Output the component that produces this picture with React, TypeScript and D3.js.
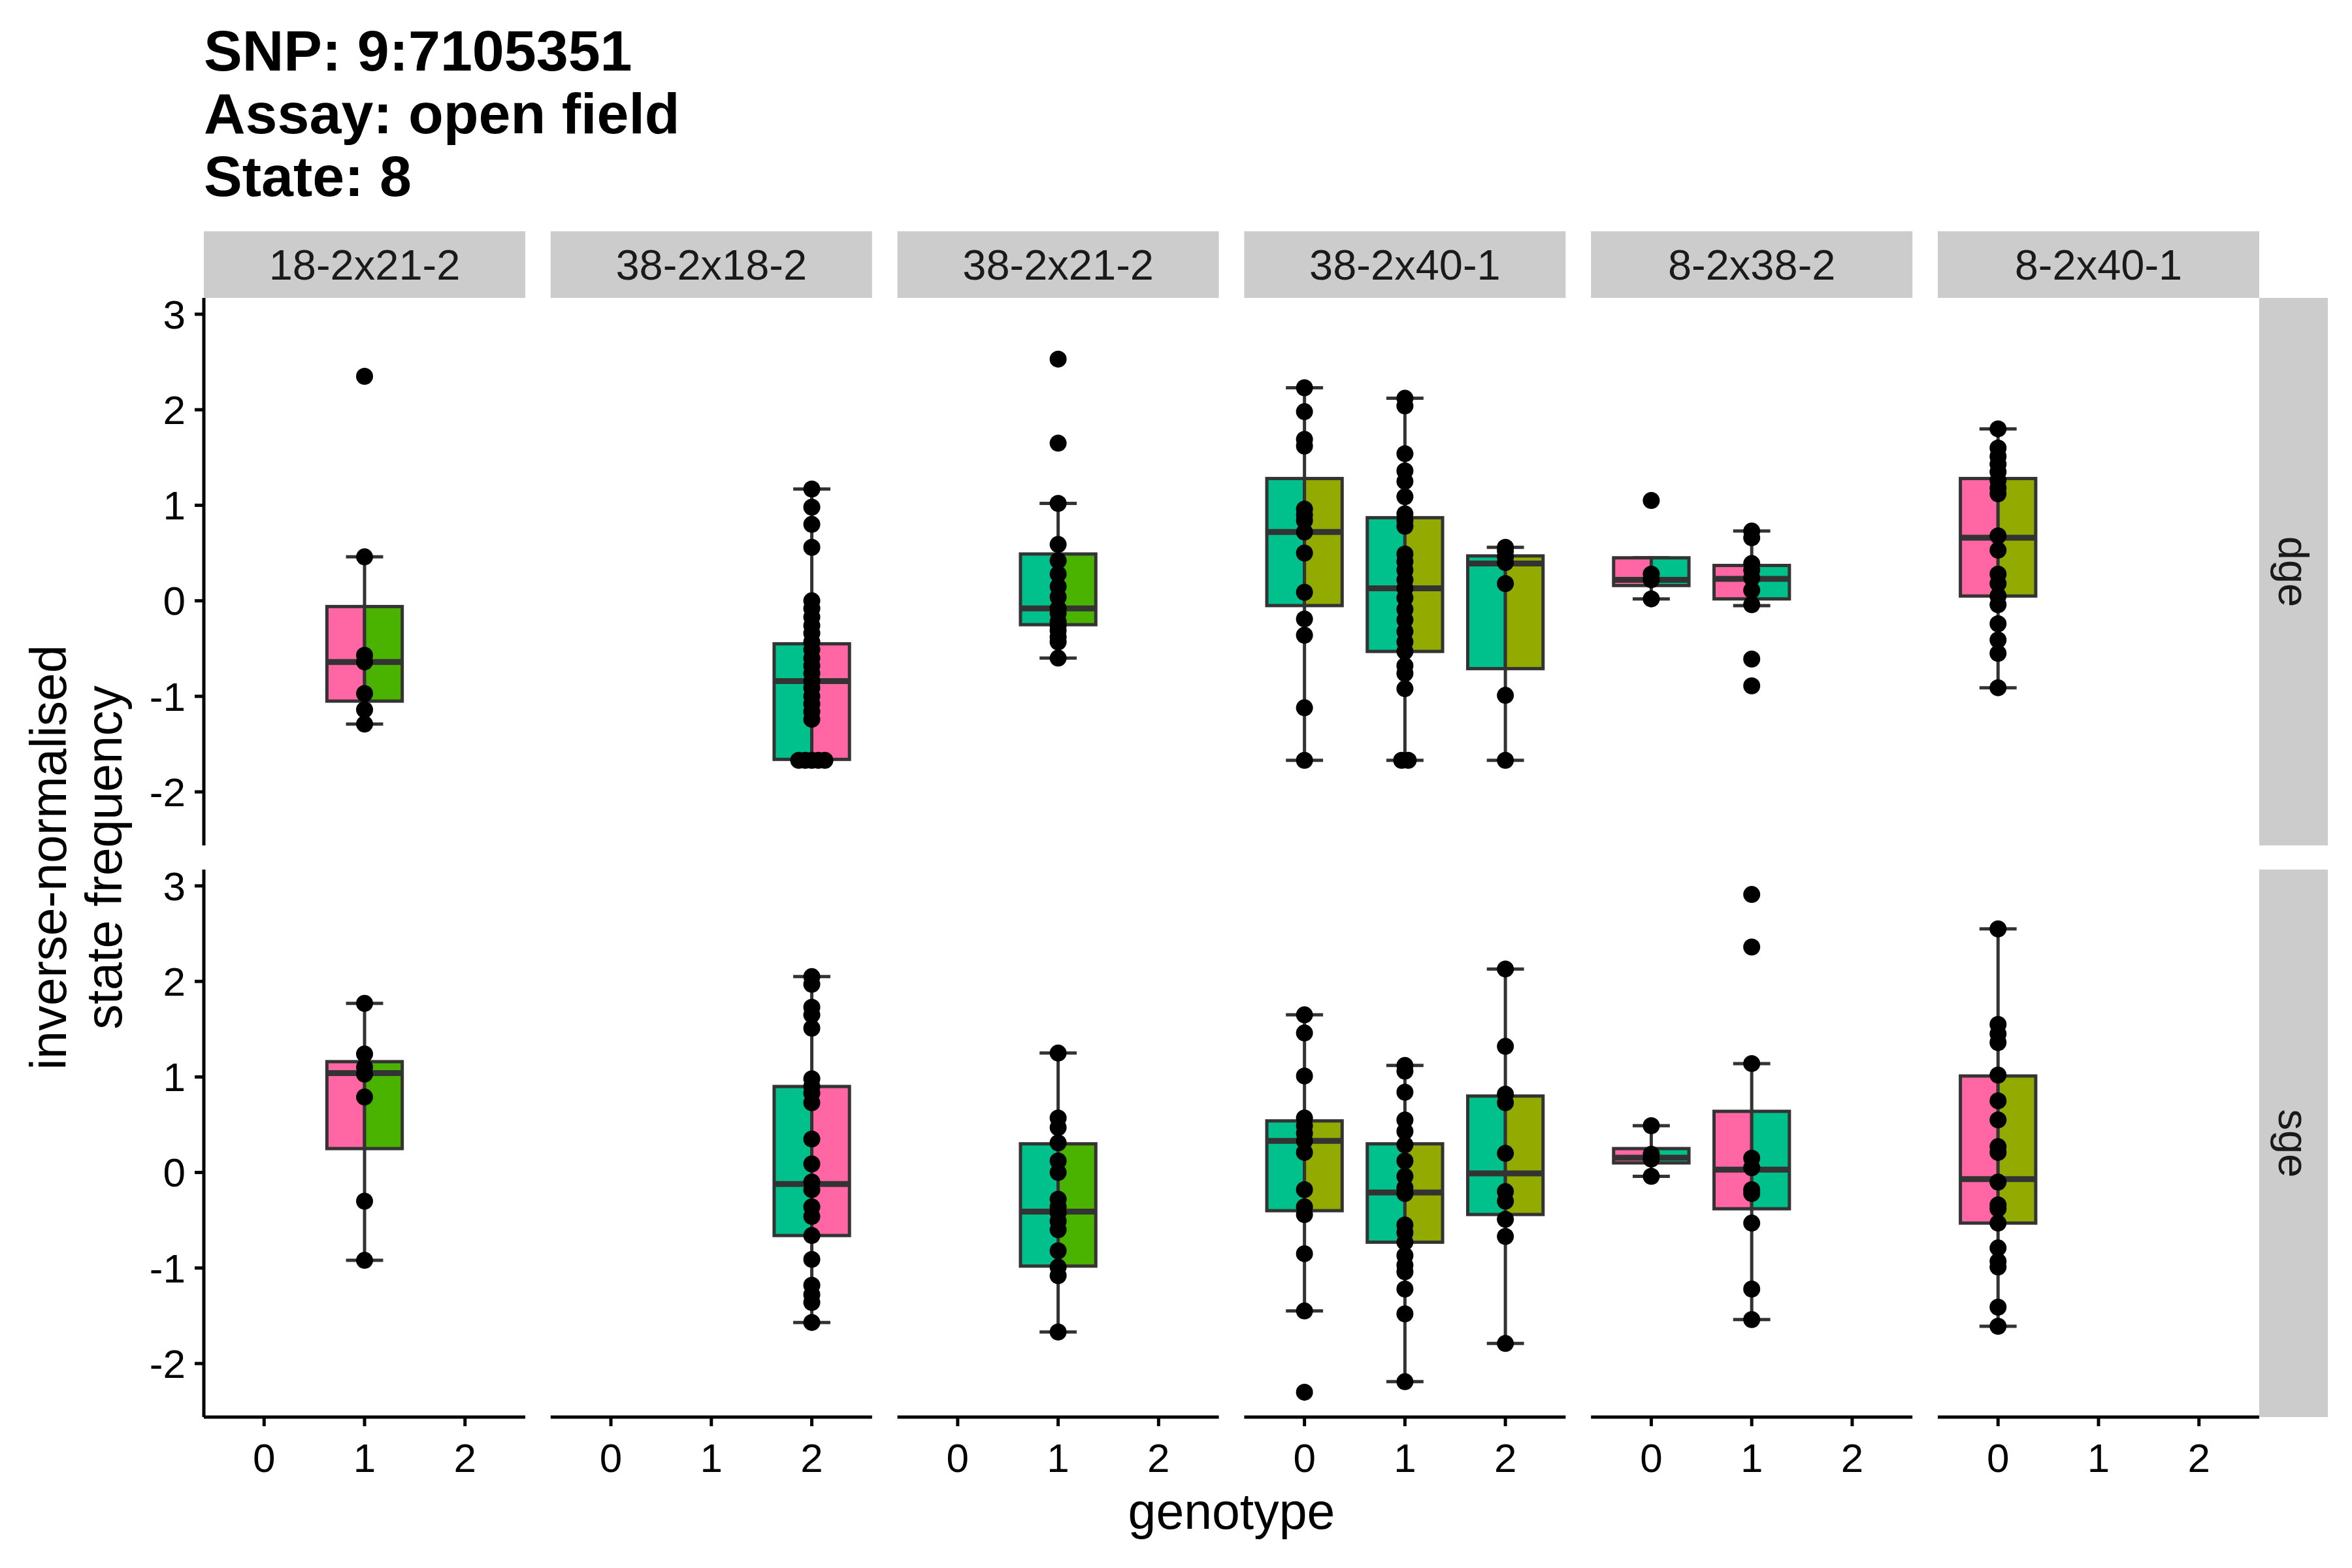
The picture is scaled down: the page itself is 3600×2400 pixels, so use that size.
import React from 'react';
import * as d3 from 'd3';

// facets, rows and genotypes
const facets = ['18-2x21-2', '38-2x18-2', '38-2x21-2', '38-2x40-1', '8-2x38-2', '8-2x40-1'];
const rowNames = ['dge', 'sge'];
const genotypes = [0, 1, 2];
const yTicks = [-2, -1, 0, 1, 2, 3];
const titleLines = ['SNP: 9:7105351', 'Assay: open field', 'State: 8'];

const strainColors: Record<string, string> = {
  '8-2': '#FF66A3',
  '18-2': '#FF66A3',
  '21-2': '#4AB300',
  '38-2': '#00C08B',
  '40-1': '#93AA00',
};

// [facet, genotype, lower whisker, q1, median, q3, upper whisker]
type Box = [string, number, number, number, number, number, number];
const dgeBoxes: Box[] = [
  ['18-2x21-2', 1, -1.29, -1.05, -0.64, -0.06, 0.46],
  ['38-2x18-2', 2, -1.67, -1.66, -0.84, -0.45, 1.17],
  ['38-2x21-2', 1, -0.6, -0.25, -0.08, 0.49, 1.02],
  ['38-2x40-1', 0, -1.67, -0.05, 0.72, 1.28, 2.23],
  ['38-2x40-1', 1, -1.67, -0.53, 0.13, 0.87, 2.12],
  ['38-2x40-1', 2, -1.67, -0.71, 0.39, 0.47, 0.56],
  ['8-2x38-2', 0, 0.02, 0.16, 0.22, 0.45, 0.45],
  ['8-2x38-2', 1, -0.05, 0.02, 0.23, 0.37, 0.73],
  ['8-2x40-1', 0, -0.91, 0.05, 0.66, 1.28, 1.8],
];
const sgeBoxes: Box[] = [
  ['18-2x21-2', 1, -0.92, 0.25, 1.04, 1.16, 1.77],
  ['38-2x18-2', 2, -1.57, -0.66, -0.12, 0.9, 2.05],
  ['38-2x21-2', 1, -1.67, -0.98, -0.41, 0.3, 1.25],
  ['38-2x40-1', 0, -1.45, -0.4, 0.33, 0.54, 1.65],
  ['38-2x40-1', 1, -2.19, -0.73, -0.21, 0.3, 1.12],
  ['38-2x40-1', 2, -1.79, -0.44, -0.01, 0.8, 2.13],
  ['8-2x38-2', 0, -0.04, 0.1, 0.155, 0.25, 0.49],
  ['8-2x38-2', 1, -1.54, -0.38, 0.03, 0.64, 1.14],
  ['8-2x40-1', 0, -1.61, -0.53, -0.07, 1.01, 2.55],
];

// observations, key = facet|genotype
const dgePoints: Record<string, number[]> = {
  '18-2x21-2|1': [2.35, 0.46, -0.57, -0.64, -0.97, -1.14, -1.29],
  '38-2x18-2|2': [1.17, 0.98, 0.8, 0.56, 0.0, -0.08, -0.17, -0.26, -0.34, -0.43, -0.51, -0.6, -0.68, -0.76, -0.84, -0.91, -1.0, -1.08, -1.16, -1.24, -1.67, -1.67, -1.67, -1.67, -1.67],
  '38-2x21-2|1': [2.53, 1.65, 1.02, 0.59, 0.42, 0.28, 0.15, 0.04, -0.08, -0.13, -0.22, -0.26, -0.31, -0.38, -0.43, -0.6],
  '38-2x40-1|0': [2.23, 1.98, 1.69, 1.62, 0.96, 0.9, 0.84, 0.72, 0.5, 0.09, -0.19, -0.36, -1.12, -1.67],
  '38-2x40-1|1': [2.12, 2.04, 1.54, 1.36, 1.25, 1.09, 0.91, 0.84, 0.78, 0.49, 0.41, 0.32, 0.22, 0.13, 0.03, -0.09, -0.2, -0.32, -0.43, -0.53, -0.68, -0.76, -0.92, -1.67, -1.67],
  '38-2x40-1|2': [0.56, 0.52, 0.46, 0.4, 0.18, -0.99, -1.67],
  '8-2x38-2|0': [1.05, 0.28, 0.22, 0.02],
  '8-2x38-2|1': [0.73, 0.66, 0.39, 0.32, 0.24, 0.11, -0.04, -0.61, -0.89],
  '8-2x40-1|0': [1.8, 1.6, 1.51, 1.43, 1.35, 1.26, 1.18, 1.12, 0.68, 0.53, 0.28, 0.18, 0.05, -0.04, -0.24, -0.41, -0.55, -0.91],
};
const sgePoints: Record<string, number[]> = {
  '18-2x21-2|1': [1.77, 1.24, 1.1, 1.03, 0.79, -0.3, -0.92],
  '38-2x18-2|2': [2.05, 1.97, 1.73, 1.65, 1.51, 0.98, 0.9, 0.83, 0.73, 0.35, 0.09, -0.1, -0.18, -0.36, -0.46, -0.66, -0.91, -1.18, -1.28, -1.36, -1.57],
  '38-2x21-2|1': [1.25, 0.57, 0.47, 0.31, 0.12, 0.0, -0.28, -0.36, -0.42, -0.51, -0.6, -0.82, -0.99, -1.08, -1.67],
  '38-2x40-1|0': [1.65, 1.46, 1.01, 0.57, 0.49, 0.41, 0.33, 0.21, -0.18, -0.36, -0.44, -0.85, -1.45, -2.3],
  '38-2x40-1|1': [1.12, 1.06, 0.84, 0.55, 0.43, 0.29, 0.12, -0.04, -0.16, -0.22, -0.55, -0.63, -0.73, -0.87, -0.97, -1.04, -1.22, -1.48, -2.19],
  '38-2x40-1|2': [2.13, 1.32, 0.82, 0.73, 0.2, -0.2, -0.3, -0.49, -0.67, -1.79],
  '8-2x38-2|0': [0.49, 0.19, 0.14, -0.04],
  '8-2x38-2|1': [2.91, 2.36, 1.14, 0.15, 0.05, -0.18, -0.22, -0.53, -1.22, -1.54],
  '8-2x40-1|0': [2.55, 1.55, 1.45, 1.36, 1.02, 0.75, 0.55, 0.27, 0.21, -0.1, -0.34, -0.38, -0.53, -0.79, -0.93, -0.99, -1.41, -1.61],
};

const rowBoxes = [dgeBoxes, sgeBoxes];
const rowPoints = [dgePoints, sgePoints];

// layout
const width = 3600;
const height = 2400;
const panelLeft = 312;
const panelW = 492;
const panelStep = 530.8;
const rowTop = [456, 1331];
const panelH = 838;
const stripTop = 354;
const stripH = 102;
const rightStripW = 105;
const font = "'Liberation Sans', Arial, Helvetica, sans-serif";
const boxStroke = '#333333';

const allVals = [
  ...Object.values(dgePoints).flat(),
  ...Object.values(sgePoints).flat(),
];
const [vMin, vMax] = d3.extent(allVals) as [number, number];
const pad = (vMax - vMin) * 0.05;

const App: React.FC = () => {
  const x = (col: number) =>
    d3.scaleLinear().domain([-0.6, 2.6]).range([panelLeft + col * panelStep, panelLeft + col * panelStep + panelW]);
  const y = (row: number) =>
    d3.scaleLinear().domain([vMin - pad, vMax + pad]).range([rowTop[row] + panelH, rowTop[row]]);

  const unit = panelW / 3.2;
  const halfBox = 0.375 * unit;
  const capHalf = 0.185 * unit;
  const rightStripX = panelLeft + 5 * panelStep + panelW;

  return (
    <svg width={width} height={height} style={{ position: 'absolute', left: 0, top: 0, background: '#fff' }}
      fontFamily={font}>
      <rect width={width} height={height} fill="#fff" />
      {/* title */}
      {titleLines.map((t, i) => (
        <text key={t} x={312} y={108 + i * 96} fontSize={88} fontWeight="bold" fill="#000">{t}</text>
      ))}

      {/* top strips */}
      {facets.map((f, c) => {
        const xs = x(c);
        return (
          <g key={f}>
            <rect x={xs.range()[0]} y={stripTop} width={panelW} height={stripH} fill="#CCCCCC" />
            <text x={xs.range()[0] + panelW / 2} y={stripTop + stripH / 2} dy="0.35em" textAnchor="middle"
              fontSize={65} fill="#1a1a1a">{f}</text>
          </g>
        );
      })}

      {/* right strips */}
      {rowNames.map((r, ri) => (
        <g key={r}>
          <rect x={rightStripX} y={rowTop[ri]} width={rightStripW} height={panelH} fill="#CCCCCC" />
          <text transform={`translate(${rightStripX + rightStripW / 2},${rowTop[ri] + panelH / 2}) rotate(90)`}
            dy="0.35em" textAnchor="middle" fontSize={65} fill="#1a1a1a">{r}</text>
        </g>
      ))}

      {/* boxes and points */}
      {rowBoxes.map((boxes, ri) => {
        const ys = y(ri);
        return boxes.map(([f, g, lo, q1, med, q3, hi]) => {
          const col = facets.indexOf(f);
          const cx = x(col)(g);
          const [p1, p2] = f.split('x');
          const pts = rowPoints[ri][`${f}|${g}`] || [];
          const counts = d3.rollup(pts, (v) => v.length, (d) => d);
          const seen = new Map<number, number>();
          return (
            <g key={`${ri}-${f}-${g}`}>
              <line x1={cx} x2={cx} y1={ys(hi)} y2={ys(lo)} stroke={boxStroke} strokeWidth={5} />
              <line x1={cx - capHalf} x2={cx + capHalf} y1={ys(hi)} y2={ys(hi)} stroke={boxStroke} strokeWidth={5} />
              <line x1={cx - capHalf} x2={cx + capHalf} y1={ys(lo)} y2={ys(lo)} stroke={boxStroke} strokeWidth={5} />
              <rect x={cx - halfBox} y={ys(q3)} width={halfBox} height={ys(q1) - ys(q3)}
                fill={strainColors[p1]} stroke={boxStroke} strokeWidth={5} />
              <rect x={cx} y={ys(q3)} width={halfBox} height={ys(q1) - ys(q3)}
                fill={strainColors[p2]} stroke={boxStroke} strokeWidth={5} />
              <line x1={cx - halfBox} x2={cx + halfBox} y1={ys(med)} y2={ys(med)} stroke={boxStroke} strokeWidth={9} />
              {pts.map((v, i) => {
                const k = counts.get(v) || 1;
                const j = seen.get(v) || 0;
                seen.set(v, j + 1);
                const off = (j - (k - 1) / 2) * 10;
                return <circle key={i} cx={cx + off} cy={ys(v)} r={13} fill="#000" />;
              })}
            </g>
          );
        });
      })}

      {/* y axes */}
      {rowNames.map((r, ri) => {
        const ys = y(ri);
        return (
          <g key={`ya-${r}`}>
            <line x1={panelLeft} x2={panelLeft} y1={rowTop[ri]} y2={rowTop[ri] + panelH} stroke="#000" strokeWidth={5} />
            {yTicks.map((t) => (
              <g key={t}>
                <line x1={panelLeft - 14} x2={panelLeft} y1={ys(t)} y2={ys(t)} stroke="#000" strokeWidth={5} />
                <text x={panelLeft - 28} y={ys(t)} dy="0.35em" textAnchor="end" fontSize={62} fill="#000">{t}</text>
              </g>
            ))}
          </g>
        );
      })}

      {/* x axes */}
      {facets.map((f, c) => {
        const xs = x(c);
        const yb = rowTop[1] + panelH;
        return (
          <g key={`xa-${f}`}>
            <line x1={xs.range()[0]} x2={xs.range()[1]} y1={yb} y2={yb} stroke="#000" strokeWidth={5} />
            {genotypes.map((gt) => (
              <g key={gt}>
                <line x1={xs(gt)} x2={xs(gt)} y1={yb} y2={yb + 14} stroke="#000" strokeWidth={5} />
                <text x={xs(gt)} y={yb + 84} textAnchor="middle" fontSize={62} fill="#000">{gt}</text>
              </g>
            ))}
          </g>
        );
      })}

      {/* axis titles */}
      <text x={(panelLeft + rightStripX) / 2} y={2340} textAnchor="middle" fontSize={77} fill="#000">genotype</text>
      <text transform={`translate(101,${(rowTop[0] + rowTop[1] + panelH) / 2}) rotate(-90)`} textAnchor="middle"
        fontSize={77} fill="#000">inverse-normalised</text>
      <text transform={`translate(186,${(rowTop[0] + rowTop[1] + panelH) / 2}) rotate(-90)`} textAnchor="middle"
        fontSize={77} fill="#000">state frequency</text>
    </svg>
  );
};

export default App;
